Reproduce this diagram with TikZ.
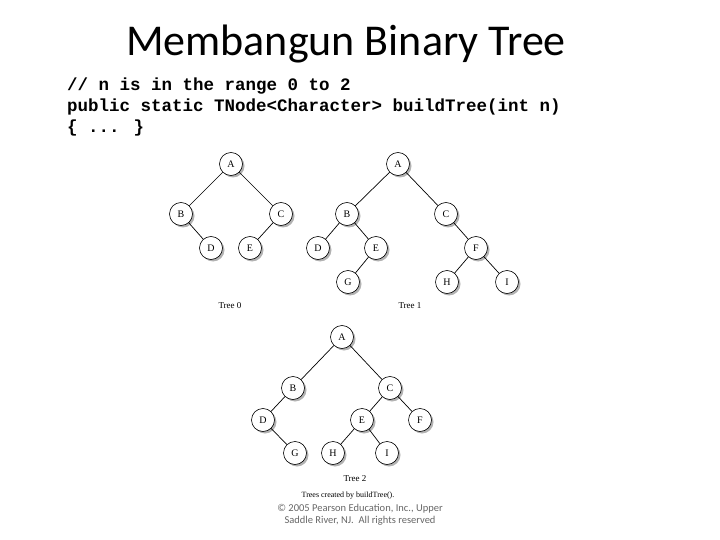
\documentclass[tikz,border=0pt]{standalone}
\usepackage{fontspec}
\setmainfont{Liberation Serif}
\newfontfamily\titlefont{Carlito}
\newfontfamily\codefont{Liberation Mono}
\begin{document}
\begin{tikzpicture}[x=1pt,y=-1pt,
  tn/.style={circle,draw,line width=0.6pt,minimum size=23pt,inner sep=0pt,font=\fontsize{10}{11}\selectfont,fill=white},
  sh/.style={circle,fill=gray!60,minimum size=23pt,inner sep=0pt},
  ed/.style={line width=0.7pt},
  capt/.style={font=\fontsize{9}{10}\selectfont},
  codeline/.style={anchor=west,font=\codefont\bfseries\fontsize{17.5}{18}\selectfont,inner sep=0pt}]
\useasboundingbox (0,0) rectangle (720,540);
\node[font=\titlefont\fontsize{44}{48}\selectfont] (title) at (346,44) {Membangun Binary Tree};
\node[codeline] (c1) at (67,86) {// n is in the range 0 to 2};
\node[codeline] (c2) at (67,107) {public static TNode<Character> buildTree(int n)};
\node[codeline] (c3) at (67,128) {\{ ... \}};
\def\tnode(#1)(#2,#3)#4;{\node[sh] at (#2+2,#3+2) {}; \node[tn] (#1) at (#2,#3) {#4};}
% Tree 0
\tnode(a0)(231,164){A};
\tnode(b0)(181,214){B};
\tnode(c0)(281,214){C};
\tnode(d0)(211,248){D};
\tnode(e0)(250,248){E};
\draw[ed] (a0)--(b0) (a0)--(c0) (b0)--(d0) (c0)--(e0);
\node[capt] (t0) at (230,306) {Tree 0};
% Tree 1
\tnode(a1)(398,164){A};
\tnode(b1)(347,214){B};
\tnode(c1n)(446,214){C};
\tnode(d1)(318,248){D};
\tnode(e1)(376,248){E};
\tnode(f1)(476,248){F};
\tnode(g1)(348,282){G};
\tnode(h1)(447,282){H};
\tnode(i1)(507,282){I};
\draw[ed] (a1)--(b1) (a1)--(c1n) (b1)--(d1) (b1)--(e1) (e1)--(g1) (c1n)--(f1) (f1)--(h1) (f1)--(i1);
\node[capt] (t1) at (410,306) {Tree 1};
% Tree 2
\tnode(a2)(342,337){A};
\tnode(b2)(293,388){B};
\tnode(c2n)(390,388){C};
\tnode(d2)(263,420){D};
\tnode(e2)(362,420){E};
\tnode(f2)(420,420){F};
\tnode(g2)(295,453){G};
\tnode(h2)(333,453){H};
\tnode(i2)(387,453){I};
\draw[ed] (a2)--(b2) (a2)--(c2n) (b2)--(d2) (d2)--(g2) (c2n)--(e2) (c2n)--(f2) (e2)--(h2) (e2)--(i2);
\node[capt] (t2) at (355,479) {Tree 2};
\node[font=\fontsize{8}{9}\selectfont] (tc) at (348,496) {Trees created by buildTree().};
\node[font=\titlefont\fontsize{10.5}{12}\selectfont,text=gray!80!black,align=center] (copy) at (360,515) {© 2005 Pearson Education, Inc., Upper\\Saddle River, NJ.\ \ All rights reserved};
\end{tikzpicture}
\end{document}
